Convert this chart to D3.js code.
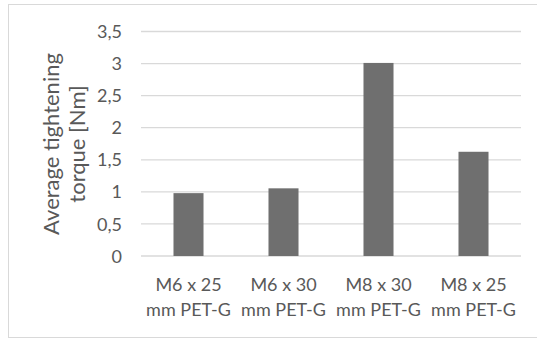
<!DOCTYPE html>
<html><head><meta charset="utf-8">
<script src="https://cdn.jsdelivr.net/npm/d3@7"></script>
<style>body{margin:0;background:#fff}svg{display:block}</style>
</head><body>
<svg id="c" width="537" height="338"></svg>
<script>
const categories = [["M6 x 25","mm PET-G"],["M6 x 30","mm PET-G"],["M8 x 30","mm PET-G"],["M8 x 25","mm PET-G"]];
const values = [0.98, 1.055, 3.01, 1.625];
const yTicks = [0,0.5,1,1.5,2,2.5,3,3.5];
const yTitle = ["Average tightening","torque [Nm]"];

const font = "Lato, 'Open Sans', sans-serif";
const textColor = "#595959";
const svg = d3.select("#c");
svg.append("rect").attr("x",8.5).attr("y",4.5).attr("width",600).attr("height",333)
  .attr("fill","#fff").attr("stroke","#d9d9d9").attr("stroke-width",1);

const x = d3.scaleBand().domain(categories.map((d,i)=>i)).range([141,521]).paddingInner(0.684).paddingOuter(0.342);
const y = d3.scaleLinear().domain([0,3.5]).range([256,31.5]);

const g = svg.append("g");
g.selectAll("line.grid").data(yTicks).join("line").attr("class","grid")
  .attr("x1",141).attr("x2",521).attr("y1",d=>y(d)).attr("y2",d=>y(d))
  .attr("stroke","#d9d9d9").attr("stroke-width",1.3);

const yAxis = d3.axisLeft(y).tickValues(yTicks).tickSize(0).tickPadding(0)
  .tickFormat(d=>String(d).replace(".",","));
const ya = svg.append("g").attr("transform","translate(122,0)").call(yAxis);
ya.select(".domain").remove();
ya.selectAll("text").attr("font-family",font).attr("font-size",18).attr("fill",textColor).attr("dy","0.34em");

g.selectAll("rect.bar").data(values).join("rect").attr("class","bar")
  .attr("x",(d,i)=>x(i)).attr("width",x.bandwidth())
  .attr("y",d=>y(d)).attr("height",d=>y(0)-y(d)).attr("fill","#6f6f6f");

const xa = svg.append("g").attr("transform","translate(0,256)")
  .call(d3.axisBottom(x).tickSize(0).tickFormat(""));
xa.select(".domain").remove();
xa.selectAll(".tick").each(function(i){
  const t = d3.select(this).append("text").attr("font-family",font).attr("font-size",18)
    .attr("fill",textColor).attr("text-anchor","middle");
  categories[i].forEach((s,k)=>t.append("tspan").attr("x",0).attr("y",35+k*25).text(s));
});

const tt = svg.append("text").attr("transform","translate(0,144) rotate(-90)")
  .attr("font-family",font).attr("font-size",22).attr("fill",textColor).attr("text-anchor","middle");
yTitle.forEach((s,k)=>tt.append("tspan").attr("x",0).attr("y",59+k*26).text(s));
</script>
</body></html>
